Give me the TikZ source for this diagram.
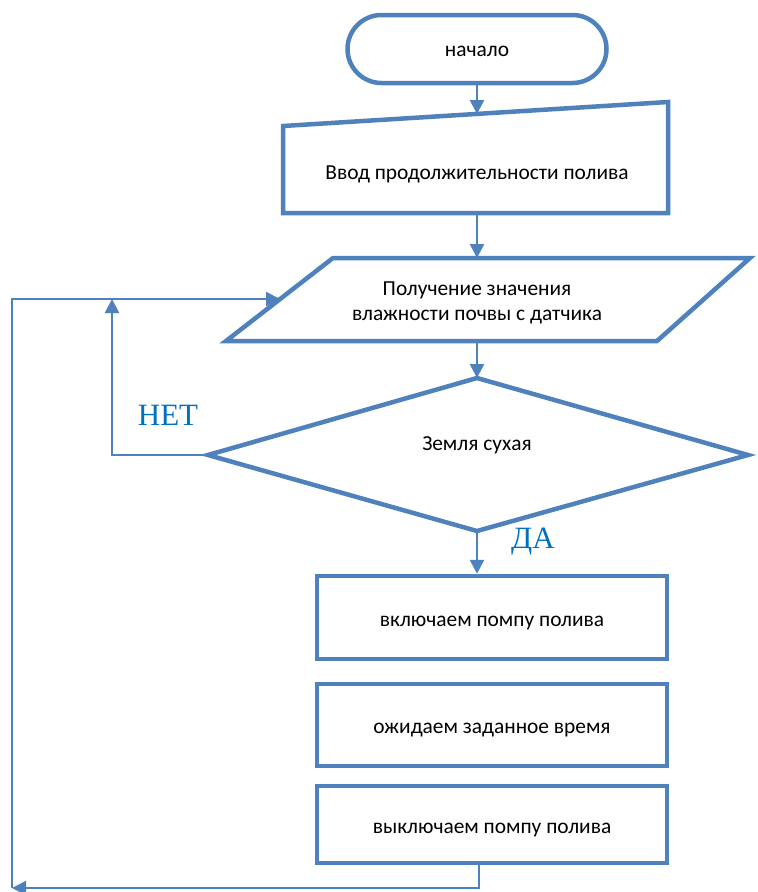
\documentclass[tikz,border=0pt]{standalone}
\usepackage{fontspec}
\setmainfont{Carlito}
\newfontfamily\labelfont{Liberation Serif}
\usetikzlibrary{arrows.meta}
\definecolor{flowblue}{HTML}{4F81BD}
\definecolor{labelblue}{HTML}{0070C0}

\begin{document}
\begin{tikzpicture}[x=1pt,y=-1pt,
  shapeline/.style={draw=flowblue, line width=4.5pt, line join=miter},
  flow/.style={draw=flowblue, line width=2.6pt, line join=miter,
    -{Triangle[length=14pt,width=14pt]}},
  txt/.style={font=\fontsize{21.4}{25}\selectfont, align=center, text=black},
  procbox/.style={shapeline, txt, minimum width=350pt,
    text height=17.5pt, text depth=0pt},
  branch/.style={font=\labelfont\fontsize{31}{31}\selectfont, text=labelblue}]
\useasboundingbox (0,0) rectangle (758,892);

% start terminal
\node[shapeline, txt, rounded corners=34pt, minimum width=259pt,
      minimum height=68pt, text height=14pt, text depth=0pt] (start) at (477,49) {начало};

% manual input (slanted top)
\coordinate (in-tl) at (283,126);
\coordinate (in-tr) at (668,102);
\coordinate (in-br) at (668,213);
\coordinate (in-bl) at (283,213);
\draw[shapeline] (in-tl) -- (in-tr) -- (in-br) -- (in-bl) -- cycle;
\node[txt] (input) at (477,174) {Ввод продолжительности полива};
\coordinate (input-top) at (477,114);
\coordinate (input-bot) at (477,213);

% data (parallelogram)
\coordinate (rd-tl) at (333,258);
\coordinate (rd-tr) at (750,258);
\coordinate (rd-br) at (657,341);
\coordinate (rd-bl) at (226,341);
\draw[shapeline] (rd-tl) -- (rd-tr) -- (rd-br) -- (rd-bl) -- cycle;
\node[txt] (read) at (477,303) {Получение значения\\влажности почвы с датчика};
\coordinate (read-top) at (477,258);
\coordinate (read-bot) at (477,341);
\coordinate (read-left) at (280,299);

% decision
\coordinate (dec-top) at (477,378);
\coordinate (dec-right) at (748,455);
\coordinate (dec-bot) at (477,531);
\coordinate (dec-left) at (208,455);
\draw[shapeline] (dec-top) -- (dec-right) -- (dec-bot) -- (dec-left) -- cycle;
\node[txt] (cond) at (477,445) {Земля сухая};

% process boxes
\node[procbox, minimum height=83pt] (pump-on) at (492,617.5) {включаем помпу полива};
\node[procbox, minimum height=82pt] (wait) at (492,725) {ожидаем заданное время};
\node[procbox, minimum height=77pt] (pump-off) at (492,824.5) {выключаем помпу полива};

% main flow
\draw[flow] (start.south) -- (input-top);
\draw[flow] (input-bot) -- (read-top);
\draw[flow] (read-bot) -- (dec-top);
\draw[flow] (dec-bot) -- (dec-bot |- pump-on.north);

% "no" branch
\coordinate (no-corner) at (112,455);
\coordinate (no-join) at (112,299);
\draw[flow] (dec-left) -- (no-corner) -- (no-join);

% return loop
\coordinate (off-exit) at (479,863);
\coordinate (loop-br) at (479,888);
\coordinate (loop-bl) at (12,888);
\coordinate (loop-tl) at (12,299);
\draw[flow, line width=2.2pt] (off-exit) -- (loop-br) -- (loop-bl);
\draw[flow] (loop-bl) -- (loop-tl) -- (read-left);

% branch labels
\node[branch] (no-label) at (168,415) {НЕТ};
\node[branch] (yes-label) at (533,542) {ДА};
\end{tikzpicture}
\end{document}
